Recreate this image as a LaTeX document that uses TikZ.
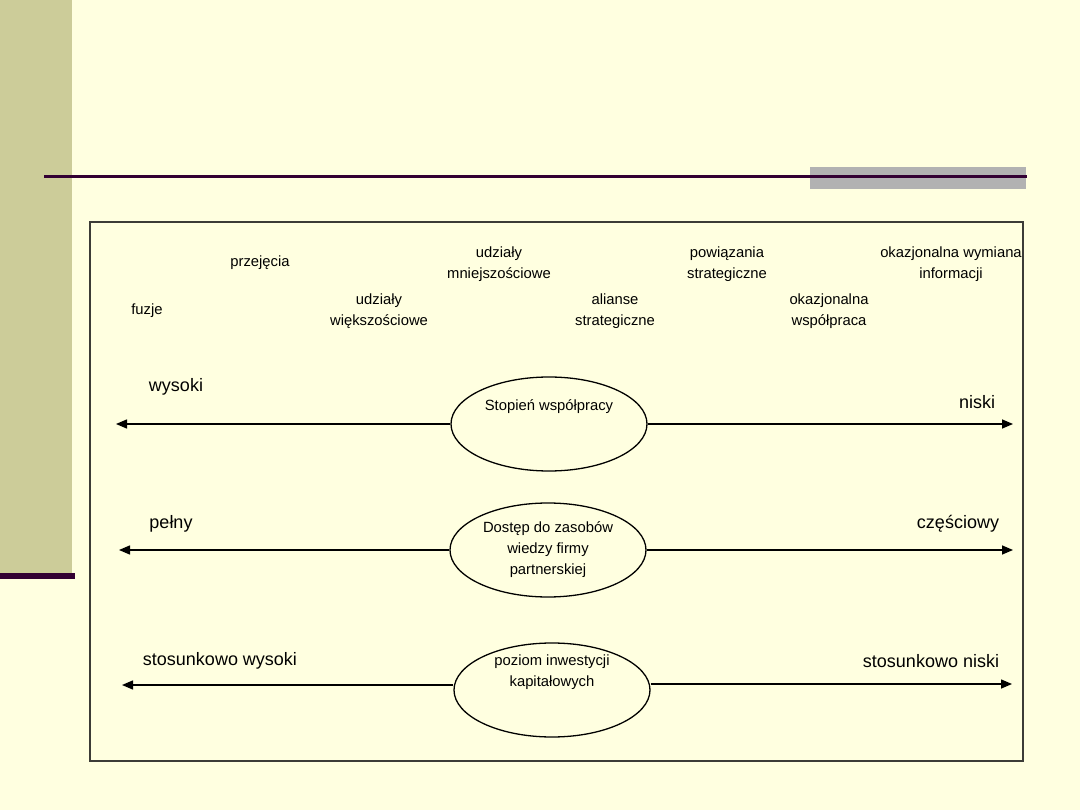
\documentclass[tikz,border=0pt]{standalone}
\usepackage{fontspec}
\setmainfont{Liberation Sans}
\usetikzlibrary{shapes.geometric,arrows.meta}
\definecolor{bgc}{RGB}{255,255,224}
\definecolor{barc}{RGB}{204,204,153}
\definecolor{purp}{RGB}{51,0,51}
\definecolor{grayb}{RGB}{178,178,178}
\definecolor{boxc}{RGB}{60,60,55}
\tikzset{
  small/.style={font=\fontsize{14.8}{21}\selectfont, align=center, inner sep=0pt},
  big/.style={font=\fontsize{18}{22}\selectfont, inner sep=0pt},
  oval/.style={ellipse, draw=black, line width=1.3pt, fill=bgc, minimum width=196pt, minimum height=94pt, inner sep=0pt},
  arr/.style={line width=1.5pt, -{Triangle[length=11pt,width=9pt]}}
}
\begin{document}
\begin{tikzpicture}[x=1pt,y=-1pt]
\useasboundingbox (0,0) rectangle (1080,810);
\fill[bgc] (0,0) rectangle (1080,810);
% decoration
\fill[barc] (0,0) rectangle (72,575);
\fill[purp] (0,573) rectangle (75,579);
\fill[grayb] (810,167) rectangle (1026,189);
\fill[purp] (44,175) rectangle (1027,178);
% frame
\draw[boxc, line width=1.5pt] (90,222) rectangle (1023,761);
% top labels
\node[small] (przej) at (260,263) {przejęcia};
\node[small] (umn) at (499,264) {udziały\\mniejszościowe};
\node[small] (pow) at (727,264) {powiązania\\strategiczne};
\node[small] (okw) at (951,264) {okazjonalna wymiana\\informacji};
\node[small] (fuzje) at (147,311) {fuzje};
\node[small] (uwi) at (379,311) {udziały\\większościowe};
\node[small] (ali) at (615,311) {alianse\\strategiczne};
\node[small] (okp) at (829,311) {okazjonalna\\współpraca};
% ellipses
\node[oval] (e1) at (549,424) {};
\node[small] at (549,407) {Stopień współpracy};
\node[oval] (e2) at (548,550) {};
\node[small] at (548,550) {Dostęp do zasobów\\wiedzy firmy\\partnerskiej};
\node[oval] (e3) at (552,690) {};
\node[small] at (552,672) {poziom inwestycji\\kapitałowych};
% arrow ends
\coordinate (L1) at (116,424);
\coordinate (R1) at (1013,424);
\coordinate (L2) at (119,550);
\coordinate (R2) at (1013,550);
\coordinate (L3) at (122,685);
\coordinate (R3) at (1012,684);
\draw[arr] (e1.west) -- (L1);
\draw[arr] (e1.east) -- (R1);
\draw[arr] (e2.west) -- (L2);
\draw[arr] (e2.east) -- (R2);
\draw[arr] (e3.west |- L3) -- (L3);
\draw[arr] (e3.east |- R3) -- (R3);
% side labels
\node[big] (wys) at (176,387) {wysoki};
\node[big] (nis) at (977,402) {niski};
\node[big] (pel) at (171,524) {pełny};
\node[big] (czes) at (958,524) {częściowy};
\node[big] (sw) at (220,661) {stosunkowo wysoki};
\node[big] (sn) at (931,661) {stosunkowo niski};
\end{tikzpicture}
\end{document}
